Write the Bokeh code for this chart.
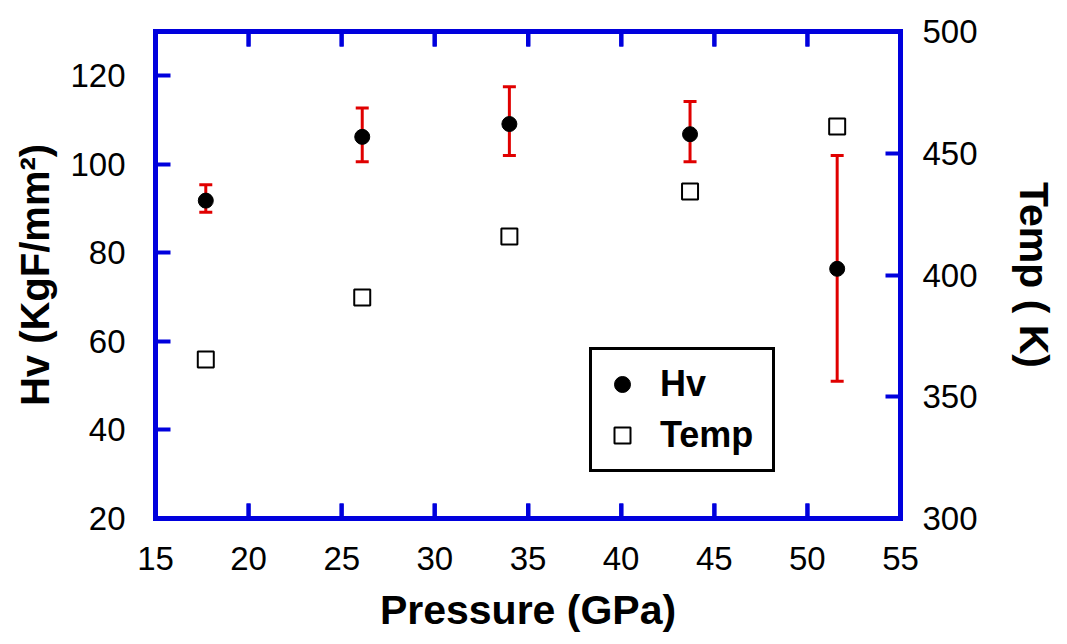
from bokeh.plotting import figure
from bokeh.models import (Range1d, LinearAxis, Whisker, TeeHead, ColumnDataSource,
                          Legend, LegendItem, FixedTicker)
from bokeh.embed import file_html
from bokeh.resources import INLINE

# ---- data ----
pressure = [17.7, 26.1, 34.0, 43.7, 51.6]
hv = [91.8, 106.2, 109.1, 106.8, 76.4]
hv_upper = [95.4, 112.7, 117.5, 114.2, 102.0]
hv_lower = [89.2, 100.6, 102.0, 100.6, 51.0]
temp = [365.3, 390.8, 415.8, 434.3, 461.0]

x_ticks = [15, 20, 25, 30, 35, 40, 45, 50, 55]
inner_x_ticks = [20, 25, 30, 35, 40, 45, 50]
hv_ticks = [20, 40, 60, 80, 100, 120]
temp_ticks = [300, 350, 400, 450, 500]

X_RANGE = (15, 55)
HV_RANGE = (20, 130)
TEMP_RANGE = (300, 500)

BLUE = "#0000dd"
RED = "#e00000"
FONT = "Liberation Sans"
FRAME_H = 487
TICK_PX = 15

p = figure(width=1059, height=640, output_backend="svg", toolbar_location=None,
           x_range=Range1d(*X_RANGE), y_range=Range1d(*HV_RANGE),
           min_border_left=155, min_border_right=159,
           min_border_top=31, min_border_bottom=122)
p.extra_y_ranges = {"temp": Range1d(*TEMP_RANGE)}
p.outline_line_color = None
p.xgrid.visible = False
p.ygrid.visible = False
p.background_fill_color = "white"
p.border_fill_color = "white"


def style(ax):
    ax.axis_line_color = BLUE
    ax.axis_line_width = 5
    ax.axis_line_cap = "square"
    ax.major_tick_line_color = BLUE
    ax.major_tick_line_width = 4
    ax.major_tick_in = TICK_PX
    ax.major_tick_out = 0
    ax.minor_tick_line_color = None
    ax.major_label_text_font = FONT
    ax.major_label_text_font_size = "33px"
    ax.major_label_text_color = "black"
    ax.major_label_standoff = 20
    ax.axis_label_text_font = FONT
    ax.axis_label_text_font_size = "40px"
    ax.axis_label_text_font_style = "bold"
    ax.axis_label_text_color = "black"


xa = p.xaxis[0]
style(xa)
xa.ticker = FixedTicker(ticks=x_ticks)
xa.axis_label = "Pressure (GPa)"
xa.axis_label_text_font_size = "41px"
xa.major_label_standoff = 28
xa.axis_label_standoff = 14

ya = p.yaxis[0]
style(ya)
ya.ticker = FixedTicker(ticks=hv_ticks)
ya.axis_label = "Hv (KgF/mm²)"
ya.major_label_standoff = 30
ya.axis_label_standoff = 10

ra = LinearAxis(y_range_name="temp", ticker=FixedTicker(ticks=temp_ticks))
style(ra)
ra.axis_label = "Temp ( K)"
ra.axis_label_text_font_size = "41px"
ra.major_label_standoff = 22
ra.axis_label_standoff = 30
p.add_layout(ra, "right")

# top frame edge, no labels
ta = LinearAxis(ticker=FixedTicker(ticks=x_ticks))
style(ta)
ta.major_label_text_font_size = "1px"
ta.major_label_text_color = None
ta.major_label_standoff = 0
p.add_layout(ta, "above")

# inward x tick marks on bottom and top edges (drawn as segments from the tick list)
tick_len = (HV_RANGE[1] - HV_RANGE[0]) * TICK_PX / FRAME_H
n = len(inner_x_ticks)
p.segment(x0=inner_x_ticks, y0=[HV_RANGE[0]] * n, x1=inner_x_ticks,
          y1=[HV_RANGE[0] + tick_len] * n, line_color=BLUE, line_width=4)
p.segment(x0=inner_x_ticks, y0=[HV_RANGE[1]] * n, x1=inner_x_ticks,
          y1=[HV_RANGE[1] - tick_len] * n, line_color=BLUE, line_width=4)

src = ColumnDataSource(dict(x=pressure, hv=hv, upper=hv_upper, lower=hv_lower, temp=temp))

wh = Whisker(base="x", upper="upper", lower="lower", source=src,
             line_color=RED, line_width=3,
             upper_head=TeeHead(size=13, line_color=RED, line_width=3),
             lower_head=TeeHead(size=13, line_color=RED, line_width=3))
p.add_layout(wh)

r_hv = p.scatter("x", "hv", source=src, marker="circle", size=15,
                 fill_color="black", line_color="black")
r_t = p.scatter("x", "temp", source=src, marker="square", size=16,
                fill_color="white", line_color="black", line_width=2,
                y_range_name="temp")

legend = Legend(items=[LegendItem(label="Hv", renderers=[r_hv]),
                       LegendItem(label="Temp", renderers=[r_t])],
                location=(434, 46))
legend.border_line_color = "black"
legend.border_line_alpha = 1
legend.border_line_width = 3
legend.background_fill_color = "white"
legend.background_fill_alpha = 1
legend.label_text_font = FONT
legend.label_text_font_size = "36px"
legend.label_text_font_style = "bold"
legend.label_text_color = "black"
legend.glyph_width = 40
legend.glyph_height = 48
legend.label_standoff = 18
legend.label_width = 102
legend.padding = 10
legend.spacing = 3
legend.margin = 0
p.add_layout(legend)

open("out.html", "w").write(file_html(p, INLINE))
